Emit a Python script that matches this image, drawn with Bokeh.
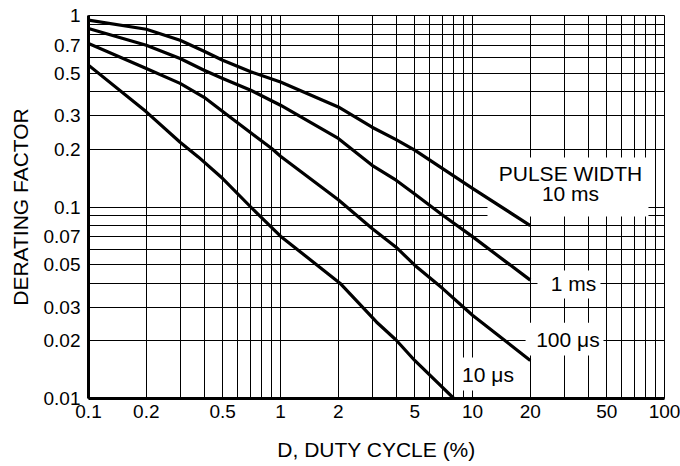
from bokeh.plotting import figure
from bokeh.models import FixedTicker, CustomJSTickFormatter, Label, BoxAnnotation, Range1d
from bokeh.embed import file_html
from bokeh.resources import INLINE

# ---------------- data ----------------
duty_10ms = [0.1, 0.2, 0.3, 0.4, 0.5, 0.7, 1, 2, 3, 4, 5, 10, 20]
factor_10ms = [0.945, 0.848, 0.743, 0.651, 0.584, 0.508, 0.450, 0.333, 0.261, 0.225, 0.198, 0.125, 0.080]

duty_1ms = [0.1, 0.2, 0.3, 0.4, 0.5, 0.7, 1, 2, 3, 4, 5, 7, 10, 20]
factor_1ms = [0.855, 0.700, 0.596, 0.518, 0.469, 0.407, 0.340, 0.228, 0.165, 0.138, 0.117, 0.0906, 0.0700, 0.0415]

duty_100us = [0.1, 0.2, 0.3, 0.4, 0.5, 0.9, 1, 2, 3, 4, 5, 7, 10, 20]
factor_100us = [0.714, 0.529, 0.442, 0.374, 0.315, 0.202, 0.184, 0.109, 0.0772, 0.0617, 0.0497, 0.0375, 0.0272, 0.0158]

duty_10us = [0.1, 0.2, 0.3, 0.373, 0.5, 0.7, 1, 2.04, 3.16, 4, 5, 8]
factor_10us = [0.550, 0.314, 0.218, 0.1826, 0.1408, 0.100, 0.0704, 0.040, 0.0251, 0.0202, 0.0158, 0.010]

series = [
    (duty_10ms, factor_10ms),
    (duty_1ms, factor_1ms),
    (duty_100us, factor_100us),
    (duty_10us, factor_10us),
]

x_tick_labels = [0.1, 0.2, 0.5, 1, 2, 5, 10, 20, 50, 100]
y_tick_labels = [0.01, 0.02, 0.03, 0.05, 0.07, 0.1, 0.2, 0.3, 0.5, 0.7, 1]
x_grid = [0.2, 0.3, 0.4, 0.5, 0.6, 0.7, 0.8, 0.9, 1,
          2, 3, 4, 5, 6, 7, 8, 9, 10,
          20, 30, 40, 50, 60, 70, 80, 90]
y_grid = [0.02, 0.03, 0.04, 0.05, 0.06, 0.07, 0.08, 0.09, 0.1,
          0.2, 0.3, 0.4, 0.5, 0.6, 0.7, 0.8, 0.9]

FONT = "Liberation Sans"

p = figure(width=680, height=466, x_axis_type="log", y_axis_type="log",
           x_range=Range1d(0.1, 100), y_range=Range1d(0.01, 1),
           output_backend="svg", toolbar_location=None,
           min_border_left=88, min_border_right=16, min_border_top=15, min_border_bottom=68)

p.background_fill_color = "white"
p.border_fill_color = "white"
p.outline_line_color = "black"
p.outline_line_width = 1
p.outline_line_alpha = 1

# grids
p.xgrid.ticker = FixedTicker(ticks=x_grid)
p.ygrid.ticker = FixedTicker(ticks=y_grid)
for g in (p.xgrid, p.ygrid):
    g.grid_line_color = "black"
    g.grid_line_width = 1
    g.grid_line_alpha = 1
    g.minor_grid_line_color = None

# axes
p.xaxis.ticker = FixedTicker(ticks=x_tick_labels)
p.yaxis.ticker = FixedTicker(ticks=y_tick_labels)
fmt = CustomJSTickFormatter(code="return tick.toString();")
for ax in (p.xaxis, p.yaxis):
    ax.formatter = fmt
    ax.axis_line_color = "black"
    ax.axis_line_width = 3
    ax.major_tick_line_color = None
    ax.minor_tick_line_color = None
    ax.major_tick_out = 0
    ax.major_tick_in = 0
    ax.minor_tick_out = 0
    ax.minor_tick_in = 0
    ax.major_label_text_font = FONT
    ax.major_label_text_font_size = "19px"
    ax.major_label_text_color = "black"
    ax.axis_label_text_font = FONT
    ax.axis_label_text_font_size = "21px"
    ax.axis_label_text_font_style = "normal"
    ax.axis_label_text_color = "black"

p.xaxis.axis_label = "D, DUTY CYCLE (%)"
p.yaxis.axis_label = "DERATING FACTOR"
p.xaxis.major_label_standoff = 6
p.yaxis.major_label_standoff = 8
p.xaxis.axis_label_standoff = 17
p.yaxis.axis_label_standoff = 9

# white label backgrounds (under the curves, over the grid)
for l, r, t, b in ((11.97, 82.5, 0.1814, 0.0892),
                   (21.8, 46.4, 0.0466, 0.0333),
                   (18.9, 48.1, 0.0249, 0.01677),
                   (8.45, 16.7, 0.01637, 0.01101)):
    p.add_layout(BoxAnnotation(left=l, right=r, top=t, bottom=b, level="underlay",
                               fill_color="white", fill_alpha=1, line_color=None))

for xs, ys in series:
    p.line(xs, ys, line_width=3.2, line_color="black", line_join="round")

for x, y, txt in ((32.4, 0.1496, "PULSE WIDTH"),
                  (32.4, 0.1176, "10 ms"),
                  (33.6, 0.0399, "1 ms"),
                  (31.4, 0.0203, "100 \u03bcs"),
                  (12.04, 0.01334, "10 \u03bcs")):
    p.add_layout(Label(x=x, y=y, text=txt, text_align="center", text_baseline="middle",
                       text_font=FONT, text_font_size="21px", text_color="black"))

open("out.html", "w").write(file_html(p, INLINE))
